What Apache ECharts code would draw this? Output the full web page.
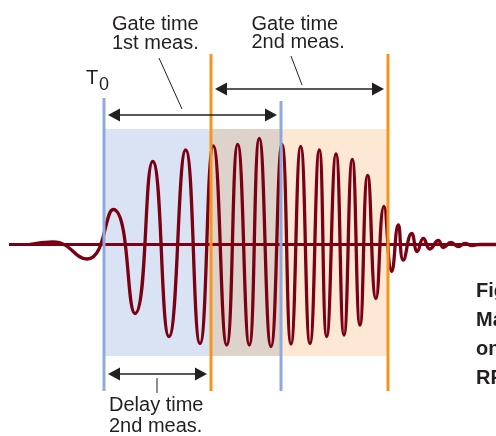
<!DOCTYPE html>
<html>
<head>
<meta charset="utf-8">
<script src="https://cdn.jsdelivr.net/npm/echarts@6.0.0/dist/echarts.min.js"></script>
<style>
html,body{margin:0;padding:0;background:#ffffff;}
#chart{width:496px;height:436px;}
</style>
</head>
<body>
<div id="chart"></div>
<script>
// ---- DATA (time units, T0 = 0; amplitude units, baseline = 0) ----
// Extremes of the RF burst
const waveTime = [-75, -51, -17, 9.3, 31, 48.7, 65, 81.7, 96, 109.3, 122.7, 133.7, 145.3, 155.3, 167, 178, 187, 196.7, 206, 215.3, 222.7, 232, 240, 248.3, 256, 263.7, 272, 280, 287.7, 294.3, 299.3, 307.7, 313.3, 319.3, 326, 334.3, 339.3, 347, 354.3, 361, 368, 376, 392];
const waveAmp  = [0, 2.5, -14.5, 35, -69, 83, -92, 94.5, -99, 98.5, -100.5, 100, -100.5, 106, -102, 100, -99.5, 98, -99, 94.5, -92, 90.5, -90.5, 85, -80.5, 69, -54, 38, -27, 19.5, -15.5, 11, -7, 6, -4.5, 4, -3, 2, -2, 1, -1, 0, 0];
// Zero line
const baselineTime = [-95, 392];
const baselineAmp  = [0, 0];
// Shaded measurement windows
const windowNames = ['1st meas. only', 'both meas.', '2nd meas. only'];
const windowStart = [0, 107, 177];
const windowEnd   = [107, 177, 284];
// Vertical marker lines
const markerNames = ['T0', 'Gate start 2nd meas.', 'Gate end 1st meas.', 'Gate end 2nd meas.'];
const markerTime  = [0, 107, 177, 284];
// Dimension arrows
const arrowNames = ['Gate time 1st meas.', 'Gate time 2nd meas.', 'Delay time 2nd meas.'];
const arrowFrom  = [0, 107, 0];
const arrowTo    = [177, 284, 107];
// Texts
const gate1Lines = ['Gate time', '1st meas.'];
const gate2Lines = ['Gate time', '2nd meas.'];
const delayLines = ['Delay time', '2nd meas.'];
const captionLines = ['Fig', 'Ma', 'on', 'RF'];

// ---- LAYOUT / STYLE ----
const FONT = '"Liberation Sans", Arial, sans-serif';
const TXT = '#231f20';
const WAVE = '#7a0014';
const shadeColors = ['#dae3f3', '#ddd3cb', '#fde8d4'];
const markerColors = ['#8eaadb', '#f7941e', '#8eaadb', '#f7941e'];
const markerTop = [146.5, 190.5, 143.5, 190.5];
const markerBottom = -146.5;
const shadeTop = 115.5, shadeBottom = -111.5;
const arrowLevel = [129.5, 155.5, -129.5];

const chart = echarts.init(document.getElementById('chart'), null, {renderer: 'canvas'});

function textEl(str, x, y, size, weight) {
  return {type: 'text', x: x, y: y, silent: true, z: 100,
    style: {text: str, fontFamily: FONT, fontSize: size, fontWeight: weight || 'normal',
      fill: TXT, align: 'left', verticalAlign: 'middle'}};
}
function lineEl(x1, y1, x2, y2) {
  return {type: 'line', silent: true, z: 100, shape: {x1, y1, x2, y2},
    style: {stroke: TXT, lineWidth: 1}};
}

const graphics = [];
gate1Lines.forEach((t, i) => graphics.push(textEl(t, 112, 24.5 + i * 18.5, 20)));
gate2Lines.forEach((t, i) => graphics.push(textEl(t, 251.5, 24 + i * 18.5, 20)));
delayLines.forEach((t, i) => graphics.push(textEl(t, 109, 405 + i * 21, 20)));
captionLines.forEach((t, i) => graphics.push(textEl(t, 476, 291 + i * 29, 20, 'bold')));
graphics.push(textEl('T', 86, 78, 20));
graphics.push(textEl('0', 99, 85, 18));
graphics.push(lineEl(159, 58, 182, 109));
graphics.push(lineEl(291, 56, 302, 85));
graphics.push(lineEl(157, 378, 157, 393));

const option = {
  animation: false,
  backgroundColor: '#ffffff',
  grid: {left: 0, right: 0, top: 0, bottom: 0, containLabel: false},
  xAxis: {type: 'value', min: -104, max: 392, show: false},
  yAxis: {type: 'value', min: -191.5, max: 244.5, show: false},
  graphic: graphics,
  series: [
    {
      name: 'windows', type: 'custom', z: 1, silent: true,
      data: windowStart.map((s, i) => [s, windowEnd[i], i]),
      encode: {x: [0, 1]},
      renderItem: function (params, api) {
        const p0 = api.coord([api.value(0), shadeTop]);
        const p1 = api.coord([api.value(1), shadeBottom]);
        return {type: 'rect', shape: {x: p0[0], y: p0[1], width: p1[0] - p0[0], height: p1[1] - p0[1]},
          style: {fill: shadeColors[api.value(2)]}};
      }
    },
    {
      name: 'baseline', type: 'line', z: 2, silent: true, showSymbol: false,
      data: baselineTime.map((t, i) => [t, baselineAmp[i]]),
      lineStyle: {color: WAVE, width: 2.8}
    },
    {
      name: 'RF burst', type: 'line', z: 3, silent: true, showSymbol: false, smooth: 0.52,
      data: waveTime.map((t, i) => [t, waveAmp[i]]),
      lineStyle: {color: WAVE, width: 3.3, cap: 'round', join: 'round'}
    },
    {
      name: 'markers', type: 'custom', z: 4, silent: true,
      data: markerTime.map((t, i) => [t, i]),
      encode: {x: 0},
      renderItem: function (params, api) {
        const i = api.value(1);
        const a = api.coord([api.value(0), markerTop[i]]);
        const b = api.coord([api.value(0), markerBottom]);
        return {type: 'line', shape: {x1: a[0], y1: a[1], x2: b[0], y2: b[1]},
          style: {stroke: markerColors[i], lineWidth: 3}};
      }
    },
    {
      name: 'arrows', type: 'custom', z: 5, silent: true,
      data: arrowFrom.map((f, i) => [f, arrowTo[i], i]),
      encode: {x: [0, 1]},
      renderItem: function (params, api) {
        const i = api.value(2);
        const a = api.coord([api.value(0), arrowLevel[i]]);
        const b = api.coord([api.value(1), arrowLevel[i]]);
        const inset = 4, hl = 12, hh = 6.5;
        const x1 = a[0] + inset, x2 = b[0] - inset, y = a[1];
        return {type: 'group', children: [
          {type: 'line', shape: {x1: x1 + 4, y1: y, x2: x2 - 4, y2: y}, style: {stroke: TXT, lineWidth: 1.5}},
          {type: 'polygon', shape: {points: [[x1, y], [x1 + hl, y - hh], [x1 + hl, y + hh]]}, style: {fill: TXT}},
          {type: 'polygon', shape: {points: [[x2, y], [x2 - hl, y - hh], [x2 - hl, y + hh]]}, style: {fill: TXT}}
        ]};
      }
    }
  ]
};
chart.setOption(option);
</script>
</body>
</html>
